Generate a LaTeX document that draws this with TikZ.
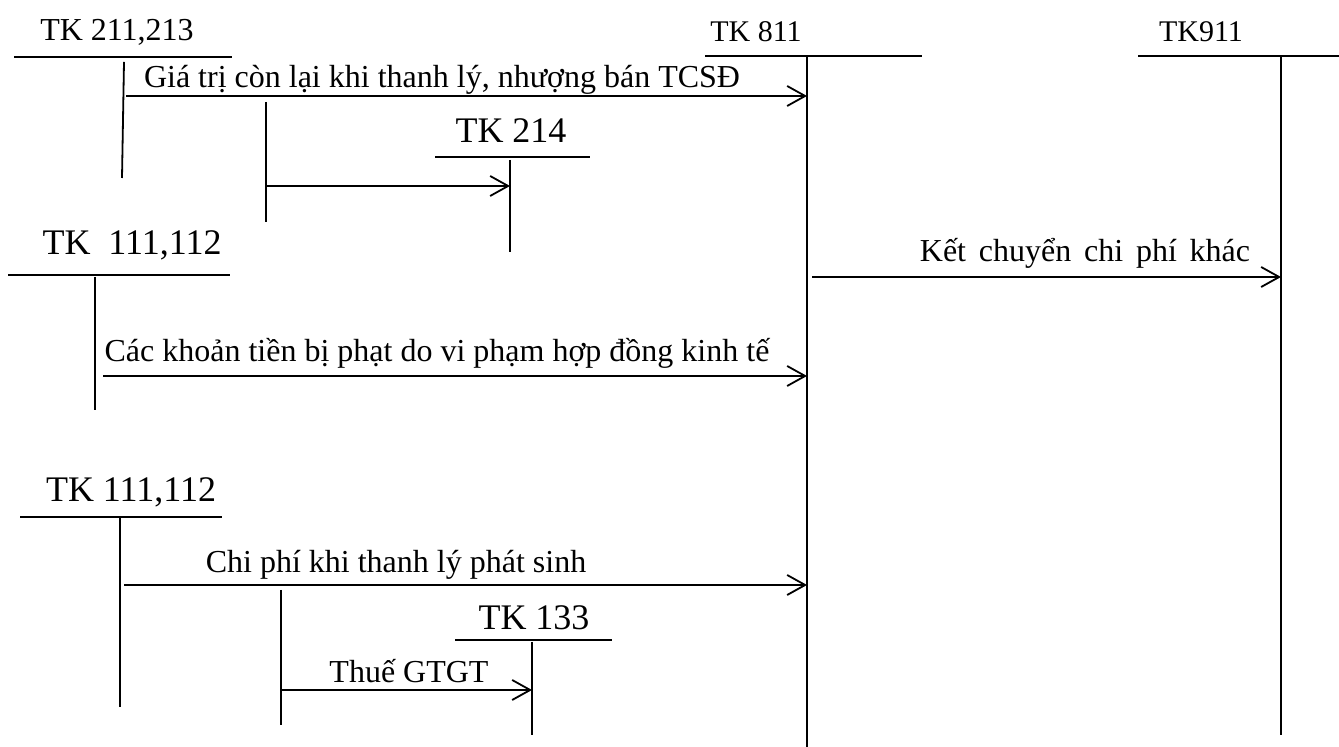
\documentclass[tikz,border=0pt]{standalone}
\usepackage{fontspec}
\setmainfont{Liberation Serif}
\usetikzlibrary{arrows.meta}

\tikzset{
  tline/.style={line width=0.9pt},
  flow/.style={line width=0.9pt, -{Straight Barb[length=9pt,width=10pt]}},
  acc/.style={anchor=base, inner sep=0pt, font=\fontsize{15}{18}\selectfont},
  accbig/.style={anchor=base, inner sep=0pt, font=\fontsize{18}{21}\selectfont},
  lbl/.style={anchor=base, inner sep=0pt, font=\fontsize{16}{19}\selectfont},
}

\begin{document}
\begin{tikzpicture}[x=0.5pt, y={(0pt,-0.5pt)}]
  \useasboundingbox (0,0) rectangle (1339,747);

  % account headings
  \node[acc, font=\fontsize{16}{19}\selectfont] (tk211) at (117,41) {TK 211,213};
  \node[acc] (tk811) at (756,42) {TK 811};
  \node[acc] (tk911) at (1201,42) {TK911};
  \node[accbig] (tk214) at (511,143) {TK 214};
  \node[accbig] (tk111a) at (132,255) {TK\ \ 111,112};
  \node[accbig] (tk111b) at (131,502) {TK 111,112};
  \node[accbig] (tk133) at (534,630) {TK 133};

  % T-account lines
  \draw[tline] (14,57) -- (232,57);
  \draw[tline] (124,62) coordinate (a211t) -- (122,178) coordinate (a211b);
  \draw[tline] (705,56) -- (922,56);
  \draw[tline] (807,57) coordinate (a811t) -- (807,747) coordinate (a811b);
  \draw[tline] (1138,56) -- (1339,56);
  \draw[tline] (1281,57) coordinate (a911t) -- (1281,735) coordinate (a911b);
  \draw[tline] (266,102) coordinate (s211t) -- (266,222) coordinate (s211b);
  \draw[tline] (435,157) -- (590,157);
  \draw[tline] (510,160) coordinate (a214t) -- (510,252) coordinate (a214b);
  \draw[tline] (8,275) -- (230,275);
  \draw[tline] (95,277) coordinate (a111t) -- (95,410) coordinate (a111b);
  \draw[tline] (20,517) -- (222,517);
  \draw[tline] (120,517) coordinate (b111t) -- (120,707) coordinate (b111b);
  \draw[tline] (281,590) coordinate (s111t) -- (281,725) coordinate (s111b);
  \draw[tline] (455,640) -- (612,640);
  \draw[tline] (532,642) coordinate (a133t) -- (532,735) coordinate (a133b);

  % flows
  \draw[flow] (126,96) coordinate (f1s) -- (f1s -| a811t);
  \node[lbl] (l1) at (442,88) {Giá trị còn lại khi thanh lý, nhượng bán TCSĐ};
  \draw[flow] (s211t |- 0,186) coordinate (f2s) -- (f2s -| a214t);
  \draw[flow] (812,277) coordinate (f3s) -- (f3s -| a911t);
  \node[lbl] (l3) at (1085,262) {\spaceskip=0.4em\relax Kết chuyển chi phí khác};
  \draw[flow] (103,376) coordinate (f4s) -- (f4s -| a811t);
  \node[lbl] (l4) at (437,362) {Các khoản tiền bị phạt do vi phạm hợp đồng kinh tế};
  \draw[flow] (124,585) coordinate (f5s) -- (f5s -| a811t);
  \node[lbl] (l5) at (396,573) {Chi phí khi thanh lý phát sinh};
  \draw[flow] (s111t |- 0,690) coordinate (f6s) -- (f6s -| a133t);
  \node[lbl] (l6) at (409,683) {Thuế GTGT};
\end{tikzpicture}
\end{document}
